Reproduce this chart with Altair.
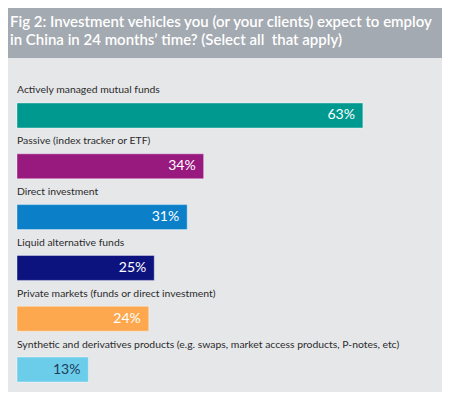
import altair as alt
import pandas as pd

categories = [
    "Actively managed mutual funds",
    "Passive (index tracker or ETF)",
    "Direct investment",
    "Liquid alternative funds",
    "Private markets (funds or direct investment)",
    "Synthetic and derivatives products (e.g. swaps, market access products, P-notes, etc)",
]
values = [63, 34, 31, 25, 24, 13]
bar_colors = ["#00998f", "#981a7f", "#0b80c9", "#0c137e", "#fda84f", "#6ccdeb"]
value_text_colors = ["#ffffff", "#ffffff", "#ffffff", "#ffffff", "#ffffff", "#1d3c5a"]
title_lines = [
    "\u00a0Fig 2: Investment vehicles you (or your clients) expect to employ",
    "in China in 24 months\u2019 time? (Select all\u00a0 that apply)",
]

df = pd.DataFrame({
    "cat": categories,
    "value": values,
    "label": [f"{v}%" for v in values],
    "color": bar_colors,
    "tcolor": value_text_colors,
})

FONT = "Lato"

y = alt.Y("cat:N", sort=categories, axis=None,
          scale=alt.Scale(type="point", padding=0.787, align=0.719))
xs = alt.Scale(domain=[-1.639, 77.41], nice=False, zero=False)

base = alt.Chart(df)

bars = base.mark_bar(size=25, stroke="#ffffff", strokeWidth=0.8, strokeOpacity=0.5).encode(
    x=alt.X("value:Q", scale=xs, axis=None),
    x2=alt.datum(0),
    y=y,
    color=alt.Color("color:N", scale=None),
)

labels = base.mark_text(align="left", baseline="alphabetic", dy=-22, font=FONT,
                        fontSize=10.4, color="#2b2b2b").encode(
    x=alt.datum(0),
    y=y,
    text="cat:N",
)

vals = base.mark_text(align="right", baseline="middle", dx=-8, font=FONT,
                      fontSize=14).encode(
    x=alt.X("value:Q", scale=xs),
    y=y,
    text="label:N",
    color=alt.Color("tcolor:N", scale=None),
)

chart = alt.layer(bars, labels, vals).properties(
    width=434,
    height=334,
    autosize=alt.AutoSizeParams(type="none"),
    padding={"top": 50, "left": 0, "right": 0, "bottom": 0},
    background="#a4aab1",
    title=alt.Title(title_lines, anchor="start", color="#ffffff", font=FONT,
                    fontSize=15, fontWeight=600, lineHeight=18, offset=10, dx=2),
).configure_view(fill="#e6e7e9", stroke=None)

chart.save("out.html", embed_options={"renderer": "svg", "actions": False})
